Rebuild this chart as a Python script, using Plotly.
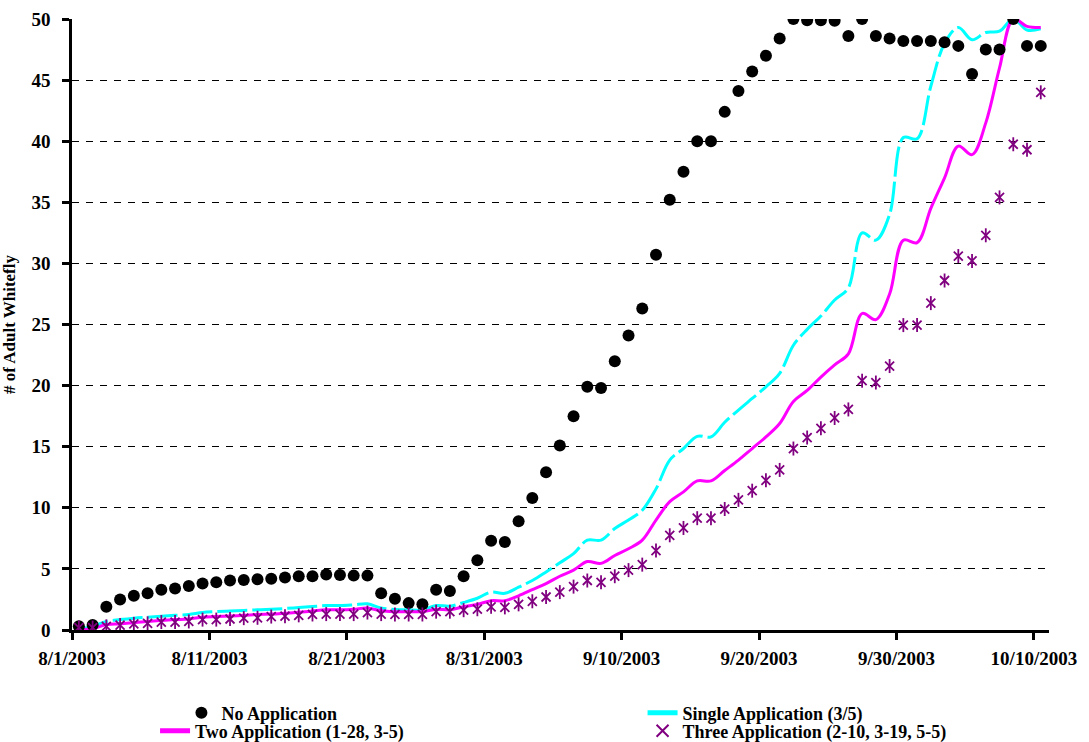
import pandas as pd
import plotly.graph_objects as go

# ---- data (daily observations, 8/1/2003 .. 10/10/2003) ----
dates = pd.date_range("2003-08-01 12:00", periods=71, freq="D")

no_application = [
    0.3, 0.4, 1.9, 2.5, 2.8, 3.0, 3.3, 3.4, 3.6, 3.8,
    3.9, 4.05, 4.1, 4.15, 4.2, 4.3, 4.4, 4.4, 4.55, 4.5,
    4.45, 4.45, 3.0, 2.55, 2.2, 2.1, 3.3, 3.2, 4.4, 5.7,
    7.3, 7.2, 8.9, 10.8, 12.9, 15.1, 17.5, 19.9, 19.8, 22.0,
    24.1, 26.3, 30.7, 35.2, 37.5, 40.0, 40.0, 42.4, 44.1, 45.7,
    47.0, 48.4, 50.0, 49.9, 49.9, 49.85, 48.6, 50.0, 48.6, 48.4,
    48.2, 48.2, 48.2, 48.1, 47.8, 45.5, 47.5, 47.5, 50.0, 47.8,
    47.8,
]

single_application = [
    0.1, 0.3, 0.7, 0.85, 0.97, 1.05, 1.13, 1.2, 1.27, 1.43,
    1.5, 1.55, 1.6, 1.65, 1.7, 1.76, 1.84, 1.92, 2.0, 2.0,
    2.06, 2.14, 1.8, 1.68, 1.65, 1.65, 2.0, 1.95, 2.25, 2.6,
    3.1, 3.0, 3.5, 4.05, 4.75, 5.5, 6.25, 7.35, 7.35, 8.3,
    9.0, 9.8, 11.55, 13.9, 14.85, 15.85, 15.8, 17.0, 18.0, 18.95,
    19.9, 21.0, 23.3, 24.6, 25.7, 27.0, 28.0, 32.5, 31.9, 34.0,
    40.3, 40.2, 44.5, 48.0, 49.3, 48.3, 48.9, 49.0, 50.0, 49.1,
    49.2,
]

two_application = [
    0.05, 0.1, 0.45, 0.5, 0.6, 0.7, 0.78, 0.85, 0.9, 1.05,
    1.1, 1.15, 1.2, 1.27, 1.3, 1.37, 1.45, 1.55, 1.65, 1.65,
    1.7, 1.8, 1.57, 1.5, 1.5, 1.5, 1.7, 1.65, 1.9, 2.1,
    2.4, 2.4, 2.8, 3.3, 3.8, 4.4, 4.9, 5.6, 5.45, 6.1,
    6.65, 7.35, 9.0, 10.5, 11.3, 12.2, 12.2, 13.05, 13.9, 14.85,
    15.8, 16.9, 18.7, 19.6, 20.7, 21.7, 22.6, 25.9, 25.4, 27.5,
    31.9, 31.7, 34.5, 37.0, 39.6, 38.9, 41.5, 46.0, 50.0, 49.4,
    49.3,
]

three_application = [
    0.2, 0.2, 0.3, 0.4, 0.5, 0.55, 0.65, 0.65, 0.7, 0.85,
    0.85, 0.9, 0.97, 1.0, 1.1, 1.13, 1.2, 1.27, 1.3, 1.3,
    1.3, 1.43, 1.3, 1.27, 1.27, 1.27, 1.5, 1.5, 1.62, 1.7,
    1.9, 1.85, 2.1, 2.35, 2.7, 3.1, 3.55, 4.05, 3.9, 4.4,
    4.9, 5.35, 6.5, 7.75, 8.35, 9.15, 9.15, 9.9, 10.65, 11.4,
    12.25, 13.1, 14.85, 15.75, 16.5, 17.35, 18.05, 20.4, 20.25, 21.6,
    24.95, 24.95, 26.75, 28.6, 30.6, 30.2, 32.3, 35.4, 39.75, 39.3,
    44.0,
]

tick_dates = ["2003-08-01", "2003-08-11", "2003-08-21", "2003-08-31",
              "2003-09-10", "2003-09-20", "2003-09-30", "2003-10-10"]
tick_labels = ["8/1/2003", "8/11/2003", "8/21/2003", "8/31/2003",
               "9/10/2003", "9/20/2003", "9/30/2003", "10/10/2003"]
y_ticks = [0, 5, 10, 15, 20, 25, 30, 35, 40, 45, 50]

FONT = "Liberation Serif, Times New Roman, DejaVu Serif, serif"
PURPLE = "#800080"

fig = go.Figure()

fig.add_trace(go.Scatter(
    x=dates, y=single_application, name="Single Application (3/5)",
    mode="lines", line=dict(color="#00FFFF", width=3, shape="spline", dash="30px,5px"),
    legend="legend2",
))
fig.add_trace(go.Scatter(
    x=dates, y=two_application, name="Two Application (1-28, 3-5)",
    mode="lines", line=dict(color="#FF00FF", width=3, shape="spline"),
    legend="legend3",
))
fig.add_trace(go.Scatter(
    x=dates, y=no_application, name="No Application",
    mode="markers", marker=dict(color="black", size=12, symbol="circle"),
    legend="legend",
))
fig.add_trace(go.Scatter(
    x=dates, y=three_application, name="Three Application (2-10, 3-19, 5-5)",
    mode="markers",
    marker=dict(symbol="x-thin-open", size=9, color=PURPLE, line=dict(color=PURPLE, width=1.8)),
    legend="legend4",
))
fig.add_trace(go.Scatter(
    x=dates, y=three_application, name="Three Application (2-10, 3-19, 5-5)",
    mode="markers", showlegend=False,
    marker=dict(symbol="line-ns-open", size=10, color=PURPLE, line=dict(color=PURPLE, width=1.8)),
))

legend_common = dict(
    orientation="v", xanchor="left", yref="container", yanchor="middle",
    font=dict(family=FONT, size=18, weight="bold"),
    bgcolor="rgba(0,0,0,0)", itemsizing="constant", tracegroupgap=0,
)
ROW1 = 0.039   # container fraction from bottom
ROW2 = 0.0148

fig.update_layout(
    width=1089, height=742,
    margin=dict(l=72, r=40, t=19, b=112),
    paper_bgcolor="white", plot_bgcolor="white",
    font=dict(family=FONT, color="black", size=18, weight="bold"),
    showlegend=True,
    legend=dict(x=0.112, y=ROW1, **legend_common),
    legend2=dict(x=0.584, y=ROW1, **legend_common),
    legend3=dict(x=0.085, y=ROW2, **legend_common),
    legend4=dict(x=0.584, y=ROW2, **legend_common),
)

fig.update_xaxes(
    type="date", automargin=False,
    range=["2003-08-01", "2003-10-11 02:24"],
    tickvals=tick_dates, ticktext=tick_labels,
    showgrid=False, zeroline=False,
    showline=True, linecolor="black", linewidth=2.5,
    ticks="outside", ticklen=7, tickwidth=2.5, tickcolor="black",
    tickfont=dict(family=FONT, size=19, weight="bold"),
    ticklabelstandoff=2,
)
fig.update_yaxes(
    range=[0, 50], tickvals=y_ticks, automargin=False,
    showgrid=True, gridcolor="black", gridwidth=1, griddash="7px,7px",
    zeroline=False,
    showline=True, linecolor="black", linewidth=2.5,
    ticks="outside", ticklen=7, tickwidth=2.5, tickcolor="black",
    tickfont=dict(family=FONT, size=19, weight="bold"),
    ticklabelstandoff=8,
    title=dict(text="# of Adult Whitefly", font=dict(family=FONT, size=17, weight="bold")),
)

fig.write_html("out.html", config={"displayModeBar": False},
               post_script="document.body.style.margin='0';")
